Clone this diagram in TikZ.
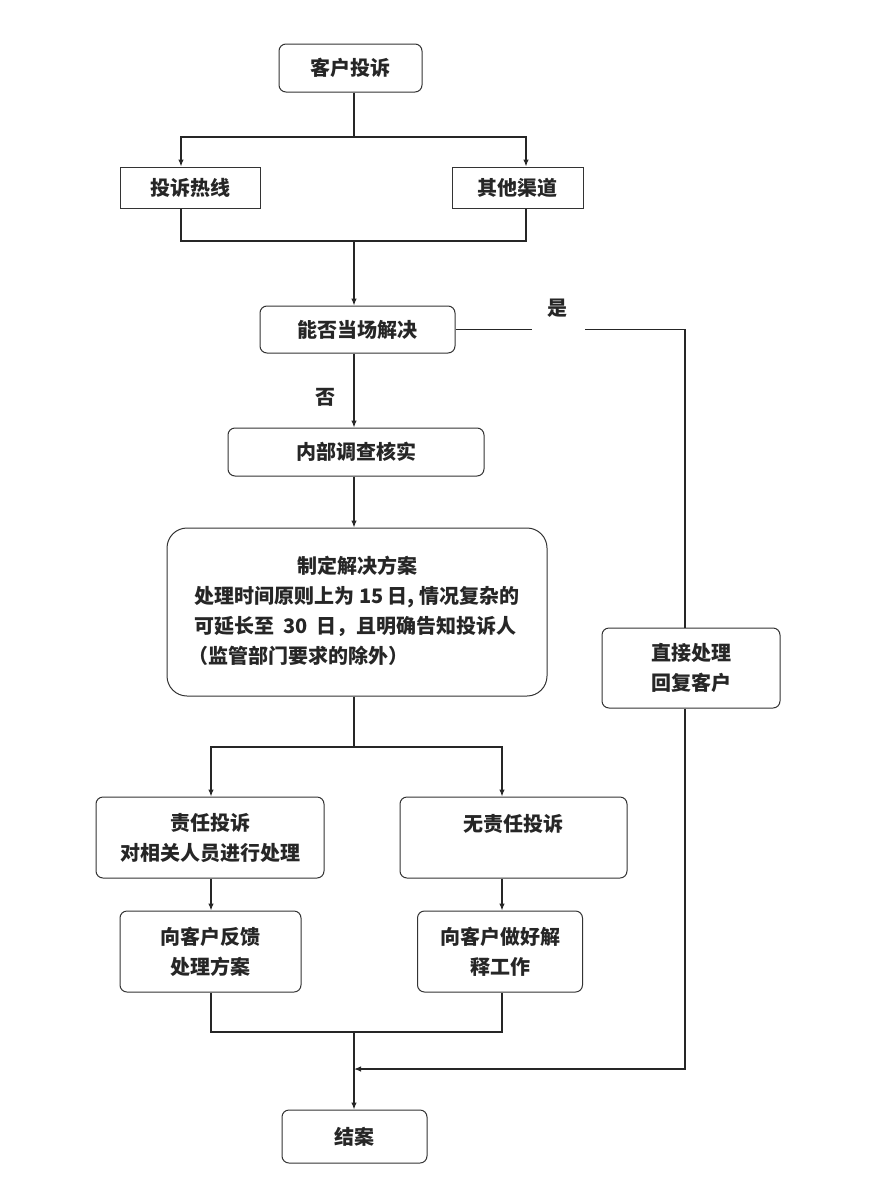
\documentclass[tikz,border=0pt]{standalone}
\usepackage{fontspec}
\setmainfont{Noto Sans CJK SC}
\usetikzlibrary{arrows.meta}
\tikzset{
  txt/.style={font=\bfseries\fontsize{20}{30}\selectfont, text=black!85},
  box/.style={txt, draw=black!80, line width=1pt, rounded corners=7pt, align=center, inner sep=0pt},
  sqbox/.style={box, rounded corners=0pt},
  conn/.style={draw=black!85, line width=1.2pt},
  arr/.style={conn, -{Latex[length=7pt,width=5.5pt]}}
}
\begin{document}
\begin{tikzpicture}[x=1pt,y=-1pt]
\useasboundingbox (0,0) rectangle (873,1186);
% nodes
\node[box, minimum width=143pt, minimum height=48pt] (kh) at (350.5,68) {客户投诉};
\node[sqbox, minimum width=140pt, minimum height=41pt] (rx) at (190,187.5) {投诉热线};
\node[sqbox, minimum width=131pt, minimum height=41pt] (qt) at (517.5,187.5) {其他渠道};
\node[box, minimum width=195pt, minimum height=47pt] (nf) at (357.5,329.5) {能否当场解决};
\node[txt] (yes) at (557,308) {是};
\node[txt] (no) at (325,397) {否};
\node[box, minimum width=256pt, minimum height=48pt] (nb) at (356,452) {内部调查核实};
\node[box, rounded corners=20pt, minimum width=380pt, minimum height=168pt] (zd) at (357,612)
  {\raisebox{8pt}{\begin{tabular}{@{}l@{}}\multicolumn{1}{@{}c@{}}{制定解决方案}\\处理时间原则上为 15 日, 情况复杂的\\可延长至\hspace{9pt}30\hspace{9pt}日，且明确告知投诉人\\\hspace{-6pt}（监管部门要求的除外）\end{tabular}}};
\node[box, minimum width=178pt, minimum height=80pt] (zj) at (691,668) {直接处理\\回复客户};
\node[box, minimum width=228pt, minimum height=81pt] (zr) at (210,837.5) {责任投诉\\对相关人员进行处理};
\node[box, minimum width=227pt, minimum height=81pt] (wz) at (513.5,837.5) {无责任投诉\\\mbox{}};
\node[box, minimum width=181pt, minimum height=81pt] (fk) at (210.5,951.5) {向客户反馈\\处理方案};
\node[box, minimum width=165pt, minimum height=81pt] (js) at (500,951.5) {向客户做好解\\释工作};
\node[box, minimum width=145pt, minimum height=53pt] (ja) at (354.5,1136.5) {结案};
% junction coordinates
\coordinate (ax) at (354,0);
\coordinate (j1) at (354,137);
\coordinate (j1l) at (181,137);
\coordinate (j1r) at (526,137);
\coordinate (j2) at (354,241);
\coordinate (j2l) at (181,241);
\coordinate (j2r) at (526,241);
\coordinate (g1) at (532,0);
\coordinate (g2) at (585,0);
\coordinate (rt) at (685,0);
\coordinate (j3) at (354,747);
\coordinate (j3l) at (211,747);
\coordinate (j3r) at (502,747);
\coordinate (j4) at (354,1032);
\coordinate (j4l) at (211,1032);
\coordinate (j4r) at (502,1032);
\coordinate (j5) at (354,1069);
% connectors
\draw[conn] (kh.south -| j1) -- (j1);
\draw[arr] (j1) -- (j1l) -- (j1l |- rx.north);
\draw[arr] (j1) -- (j1r) -- (j1r |- qt.north);
\draw[conn] (j2l |- rx.south) -- (j2l) -- (j2r) -- (j2r |- qt.south);
\draw[arr] (j2) -- (j2 |- nf.north);
\draw[conn] (nf.east) -- (g1 |- nf.east);
\draw[conn] (g2 |- nf.east) -- (rt |- nf.east) -- (rt |- zj.north);
\draw[arr] (rt |- zj.south) -- (rt |- j5) -- (j5);
\draw[arr] (nf.south -| ax) -- (nb.north -| ax);
\draw[arr] (nb.south -| ax) -- (zd.north -| ax);
\draw[conn] (zd.south -| ax) -- (j3);
\draw[arr] (j3) -- (j3l) -- (j3l |- zr.north);
\draw[arr] (j3) -- (j3r) -- (j3r |- wz.north);
\draw[arr] (zr.south -| j3l) -- (fk.north -| j3l);
\draw[arr] (wz.south -| j3r) -- (js.north -| j3r);
\draw[conn] (j4l |- fk.south) -- (j4l) -- (j4r) -- (j4r |- js.south);
\draw[arr] (j4) -- (ja.north -| j4);
\end{tikzpicture}
\end{document}
